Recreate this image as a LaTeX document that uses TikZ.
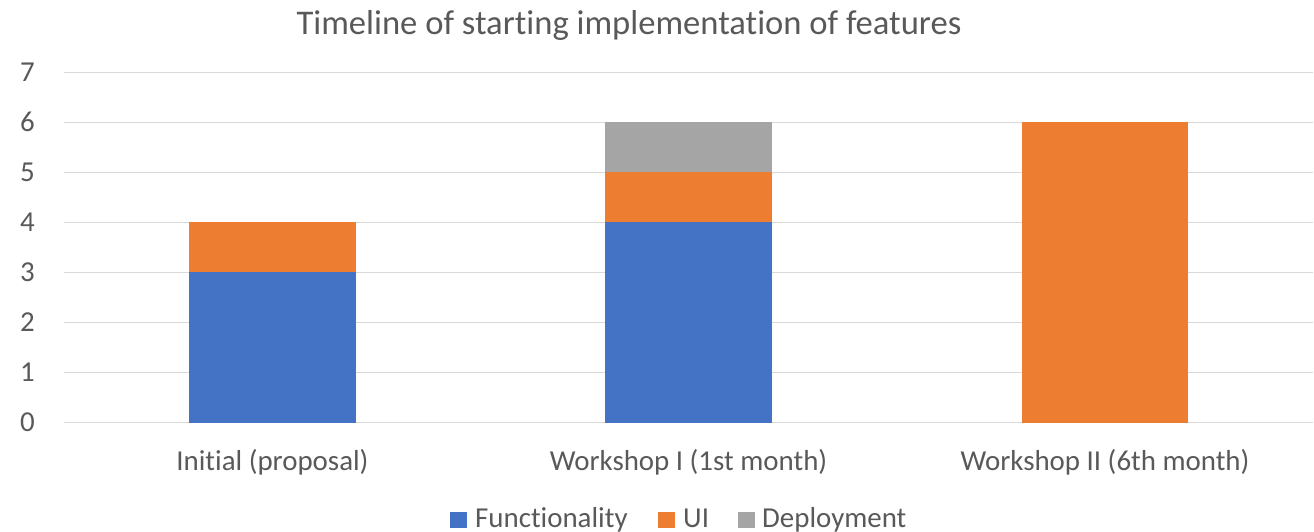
\documentclass[tikz,border=0pt]{standalone}
\usepackage{fontspec}
\setmainfont{Carlito}[RawFeature={-liga;-clig}]
\definecolor{txt}{HTML}{595959}
\definecolor{gridc}{HTML}{D9D9D9}
\definecolor{cblue}{HTML}{4472C4}
\definecolor{corange}{HTML}{ED7D31}
\definecolor{cgray}{HTML}{A5A5A5}
\begin{document}
\begin{tikzpicture}[x=1pt,y=-1pt,
  lab/.style={font=\fontsize{28.9}{32}\selectfont, text=txt, inner sep=0pt},
  ttl/.style={font=\fontsize{34.6}{38}\selectfont, text=txt, inner sep=0pt},
  gridline/.style={draw=gridc, line width=1.4pt},
  keybox/.style={inner sep=0pt, minimum size=16.5pt, anchor=south west}]
\useasboundingbox (0,0) rectangle (1314,532);
% gridlines and tick labels
\foreach \v in {0,...,7}{
  \draw[gridline] (64,{422.5-50.04*\v}) -- (1313,{422.5-50.04*\v});
  \node[lab, anchor=base east] (tick\v) at (35,{422.5-50.04*\v+9.2}) {\v};
}
% bars (stacked)
% Initial (proposal)
\fill[cblue]   (189.3,{422.5}) rectangle (355.7,{422.5-50.04*3});
\fill[corange] (189.3,{422.5-50.04*3}) rectangle (355.7,{422.5-50.04*4});
% Workshop I
\fill[cblue]   (605.3,{422.5}) rectangle (771.8,{422.5-50.04*4});
\fill[corange] (605.3,{422.5-50.04*4}) rectangle (771.8,{422.5-50.04*5});
\fill[cgray]   (605.3,{422.5-50.04*5}) rectangle (771.8,{422.5-50.04*6});
% Workshop II
\fill[corange] (1021.6,{422.5}) rectangle (1188.1,{422.5-50.04*6});
% title
\node[ttl, anchor=base] (title) at (629,35) {Timeline of starting implementation of features};
% category labels
\node[lab, anchor=base] (cat1) at (272.5,470) {Initial (proposal)};
\node[lab, anchor=base] (cat2) at (688.5,470) {Workshop I (1st month)};
\node[lab, anchor=base] (cat3) at (1105,470) {Workshop II (6th month)};
% legend
\node[keybox, fill=cblue]   (key1) at (450,528.5) {};
\node[lab, anchor=base west] (leg1) at (475,527.5) {Functionality};
\node[keybox, fill=corange] (key2) at (658,528.5) {};
\node[lab, anchor=base west] (leg2) at (683,527.5) {UI};
\node[keybox, fill=cgray]   (key3) at (738,528.5) {};
\node[lab, anchor=base west] (leg3) at (762,527.5) {Deployment};
\end{tikzpicture}
\end{document}
